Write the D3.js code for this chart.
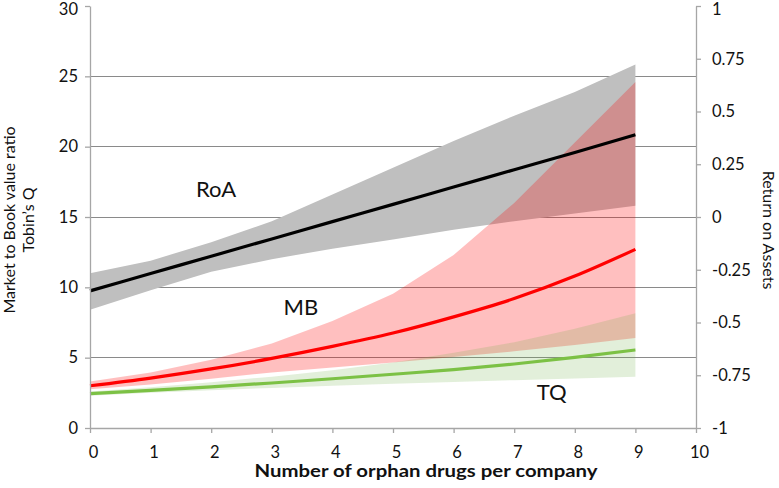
<!DOCTYPE html>
<html><head><meta charset="utf-8">
<script src="https://cdn.jsdelivr.net/npm/d3@7"></script>
<style>
html,body{margin:0;padding:0;background:#fff;}
svg{display:block;font-family:Lato,"Open Sans",sans-serif;}
</style></head>
<body>
<svg id="chart" width="779" height="488"></svg>
<script>
// ---- data ----
const xs = [0,1,2,3,4,5,6,7,8,9];
// Return on Assets (right axis)
const roaLine  = [-0.350,-0.268,-0.186,-0.104,-0.022,0.060,0.142,0.224,0.306,0.390];
const roaUpper = [-0.267,-0.207,-0.120,-0.020,0.107,0.233,0.360,0.480,0.593,0.723];
const roaLower = [-0.440,-0.347,-0.260,-0.200,-0.150,-0.107,-0.060,-0.020,0.017,0.053];
// Market to Book (left axis)
const mbLine  = [3.00,3.55,4.20,4.95,5.80,6.75,7.90,9.20,10.80,12.70];
const mbUpper = [3.30,3.95,4.85,6.00,7.60,9.55,12.30,16.00,20.30,24.60];
const mbLower = [2.75,3.10,3.50,3.95,4.30,4.65,5.05,5.45,5.90,6.40];
// Tobin's Q (left axis)
const tqLine  = [2.45,2.68,2.93,3.20,3.50,3.82,4.15,4.55,5.02,5.55];
const tqUpper = [2.60,2.90,3.25,3.65,4.10,4.65,5.35,6.10,7.05,8.15];
const tqLower = [2.30,2.50,2.68,2.85,3.00,3.15,3.27,3.40,3.52,3.65];

const xTicks = [0,1,2,3,4,5,6,7,8,9,10];
const yLeftTicks = [0,5,10,15,20,25,30];
const yRightTicks = [-1,-0.75,-0.5,-0.25,0,0.25,0.5,0.75,1];
const gridValues = [5,10,15,20,25];

// ---- layout ----
const L = 90, R = 696, T = 6, B = 428;
const svg = d3.select("#chart");
const x = d3.scaleLinear().domain([0,10]).range([L,R]);
const yL = d3.scaleLinear().domain([0,30]).range([B,T]);
const yR = d3.scaleLinear().domain([-1,1]).range([B,T]);

// gridlines
svg.append("g").selectAll("line").data(gridValues).join("line")
  .attr("x1",L).attr("x2",R)
  .attr("y1",d=>yL(d)).attr("y2",d=>yL(d))
  .attr("stroke","#8a8a8a").attr("stroke-width",1)
  .attr("shape-rendering","crispEdges");

function band(up, lo, y){
  return d3.area().x((d,i)=>x(xs[i])).y0((d,i)=>y(lo[i])).y1((d,i)=>y(up[i]))(xs);
}
function line(v, y){
  return d3.line().x((d,i)=>x(xs[i])).y((d,i)=>y(v[i])).curve(d3.curveMonotoneX)(xs);
}

// bands
svg.append("path").attr("d",band(roaUpper,roaLower,yR)).attr("fill","#bfbfbf");
svg.append("path").attr("d",band(mbUpper,mbLower,yL)).attr("fill","#ff0000").attr("fill-opacity",0.25);
svg.append("path").attr("d",band(tqUpper,tqLower,yL)).attr("fill","#70ad47").attr("fill-opacity",0.2);

// lines
svg.append("path").attr("d",line(tqLine,yL)).attr("fill","none").attr("stroke","#7cc145").attr("stroke-width",3.2);
svg.append("path").attr("d",line(mbLine,yL)).attr("fill","none").attr("stroke","#ff0000").attr("stroke-width",3.2);
svg.append("path").attr("d",line(roaLine,yR)).attr("fill","none").attr("stroke","#000").attr("stroke-width",3.2);

// axes
const axisColor = "#a6a6a6";
function styleAxis(g){
  g.select(".domain").attr("stroke",axisColor).attr("stroke-width",1.3);
  g.selectAll(".tick line").attr("stroke",axisColor).attr("stroke-width",1.3);
  g.selectAll(".tick text").attr("fill","#111").style("font-size","16.5px").style("font-family","Lato, sans-serif");
}
const gx = svg.append("g").attr("transform",`translate(0,${B})`)
  .call(d3.axisBottom(x).tickValues(xTicks).tickSize(5).tickSizeOuter(0).tickPadding(13).tickFormat(d3.format("d")));
styleAxis(gx);
gx.selectAll(".tick text").attr("dx",3);

const gl = svg.append("g").attr("transform",`translate(${L},0)`)
  .call(d3.axisLeft(yL).tickValues(yLeftTicks).tickSize(5).tickSizeOuter(0).tickPadding(7).tickFormat(d3.format("d")));
styleAxis(gl);
gl.selectAll(".tick text").filter(d=>d===30).attr("dy","0.52em");

const gr = svg.append("g").attr("transform",`translate(${R},0)`)
  .call(d3.axisRight(yR).tickValues(yRightTicks).tickSize(5).tickSizeOuter(0).tickPadding(11).tickFormat(d=>String(d)));
styleAxis(gr);
gr.selectAll(".tick text").filter(d=>d===1).attr("dy","0.52em");

// axis titles
svg.append("text").attr("x",426).attr("y",477).attr("text-anchor","middle")
  .style("font-size","16.5px").style("font-weight","bold").attr("fill","#111")
  .attr("textLength",343).attr("lengthAdjust","spacingAndGlyphs")
  .text("Number of orphan drugs per company");
svg.append("text").attr("transform","translate(15,220) rotate(-90)").attr("text-anchor","middle")
  .style("font-size","16px").attr("fill","#111").text("Market to Book value ratio");
svg.append("text").attr("transform","translate(34,220) rotate(-90)").attr("text-anchor","middle")
  .style("font-size","16px").attr("fill","#111").text("Tobin’s Q");
svg.append("text").attr("transform","translate(763,230) rotate(90)").attr("text-anchor","middle")
  .style("font-size","16px").attr("fill","#111").text("Return on Assets");

// series labels
const labels = [
  {t:"RoA", x:2.08, v:16.4},
  {t:"MB",  x:3.48, v:8.0},
  {t:"TQ",  x:7.62, v:2.0}
];
svg.append("g").selectAll("text").data(labels).join("text")
  .attr("x",d=>x(d.x)).attr("y",d=>yL(d.v)).attr("text-anchor","middle")
  .style("font-size","22px").attr("fill","#111").text(d=>d.t);
</script>
</body></html>
